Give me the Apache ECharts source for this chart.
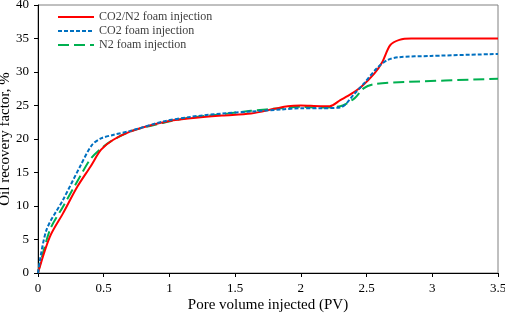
<!DOCTYPE html>
<html>
<head>
<meta charset="utf-8">
<script src="https://cdn.jsdelivr.net/npm/echarts@6/dist/echarts.min.js"></script>
<style>
html, body { margin: 0; padding: 0; background: #fff; }
#main { width: 505px; height: 313px; }
</style>
</head>
<body>
<div id="main"></div>
<script>
// pore volume (PV) vs oil recovery factor (%)
var names = ['CO2/N2 foam injection', 'CO2 foam injection', 'N2 foam injection'];

var pvMix = [0, 0.09, 0.19, 0.30, 0.40, 0.48, 0.57, 0.70, 0.83, 1.0, 1.16, 1.4, 1.62, 1.8, 1.9, 2.0, 2.15, 2.22, 2.30, 2.38, 2.46, 2.56, 2.62, 2.68, 2.75, 2.84, 3.2, 3.5];
var rfMix = [0, 5.4, 8.9, 12.9, 15.9, 18.4, 19.85, 21.1, 21.9, 22.7, 23.1, 23.5, 23.8, 24.5, 24.9, 25.0, 24.9, 24.9, 25.8, 26.7, 27.8, 29.8, 31.5, 34.0, 34.8, 35.0, 35.0, 35.0];

var pvCO2 = [0, 0.064, 0.19, 0.32, 0.41, 0.48, 0.57, 0.70, 0.95, 1.16, 1.4, 1.62, 1.85, 2.0, 2.15, 2.30, 2.41, 2.48, 2.58, 2.66, 2.74, 2.99, 3.5];
var rfCO2 = [0, 6.4, 10.9, 15.9, 19.1, 20.1, 20.6, 21.2, 22.6, 23.3, 23.8, 24.1, 24.4, 24.6, 24.6, 24.7, 26.8, 28.3, 30.6, 31.8, 32.2, 32.4, 32.7];

var pvN2 = [0, 0.09, 0.19, 0.32, 0.395, 0.47, 0.55, 0.70, 0.95, 1.16, 1.4, 1.62, 1.85, 2.0, 2.15, 2.30, 2.41, 2.48, 2.56, 2.79, 3.5];
var rfN2 = [0, 6.4, 9.9, 14.4, 16.9, 18.4, 19.6, 21.1, 22.4, 23.2, 23.7, 24.2, 24.6, 24.8, 24.7, 24.9, 26.1, 27.6, 28.2, 28.5, 29.0];

function pairs(xs, ys) {
    return xs.map(function (x, i) { return [x, ys[i]]; });
}

var font = '"Liberation Serif", "Times New Roman", serif';
var myChart = echarts.init(document.getElementById('main'));

var option = {
    animation: false,
    textStyle: { fontFamily: font },
    grid: {
        left: 38, right: 7, top: 5, bottom: 40,
        outerBoundsMode: 'none', containLabel: false,
        show: true, borderColor: '#808080', borderWidth: 1
    },
    legend: {
        orient: 'vertical',
        left: 52, top: 6,
        itemWidth: 36, itemHeight: 12, itemGap: 2,
        itemStyle: { color: 'rgba(0,0,0,0)', borderWidth: 0 },
        textStyle: { fontFamily: font, fontSize: 12, color: '#404040' },
        data: names
    },
    xAxis: {
        type: 'value', min: 0, max: 3.5, interval: 0.5,
        name: 'Pore volume injected (PV)', nameLocation: 'middle', nameGap: 25,
        nameMoveOverlap: false,
        nameTextStyle: { fontFamily: font, fontSize: 15, color: '#000' },
        axisLine: { lineStyle: { color: '#000', width: 1 } },
        axisTick: { show: true, length: 4, lineStyle: { color: '#000' } },
        axisLabel: { fontFamily: font, fontSize: 13, color: '#000', margin: 9 },
        splitLine: { show: false }
    },
    yAxis: {
        type: 'value', min: 0, max: 40, interval: 5,
        name: 'Oil recovery factor, %', nameLocation: 'middle', nameGap: 25,
        nameMoveOverlap: false,
        nameTextStyle: { fontFamily: font, fontSize: 15, color: '#000' },
        axisLine: { show: true, lineStyle: { color: '#000', width: 1 } },
        axisTick: { show: true, length: 4, lineStyle: { color: '#000' } },
        axisLabel: { fontFamily: font, fontSize: 13, color: '#000', margin: 9 },
        splitLine: { show: false }
    },
    series: [
        {
            name: names[0], type: 'line', data: pairs(pvMix, rfMix),
            smooth: 0.3, symbol: 'none', z: 3,
            lineStyle: { color: '#ff0000', width: 2 },
            itemStyle: { color: '#ff0000' }
        },
        {
            name: names[1], type: 'line', data: pairs(pvCO2, rfCO2),
            smooth: 0.3, symbol: 'none', z: 4,
            lineStyle: { color: '#0070c0', width: 2, type: [4, 2] },
            itemStyle: { color: '#0070c0' }
        },
        {
            name: names[2], type: 'line', data: pairs(pvN2, rfN2),
            smooth: 0.3, symbol: 'none', z: 2,
            lineStyle: { color: '#00b050', width: 2, type: [11, 5] },
            itemStyle: { color: '#00b050' }
        }
    ]
};

myChart.setOption(option);
</script>
</body>
</html>
